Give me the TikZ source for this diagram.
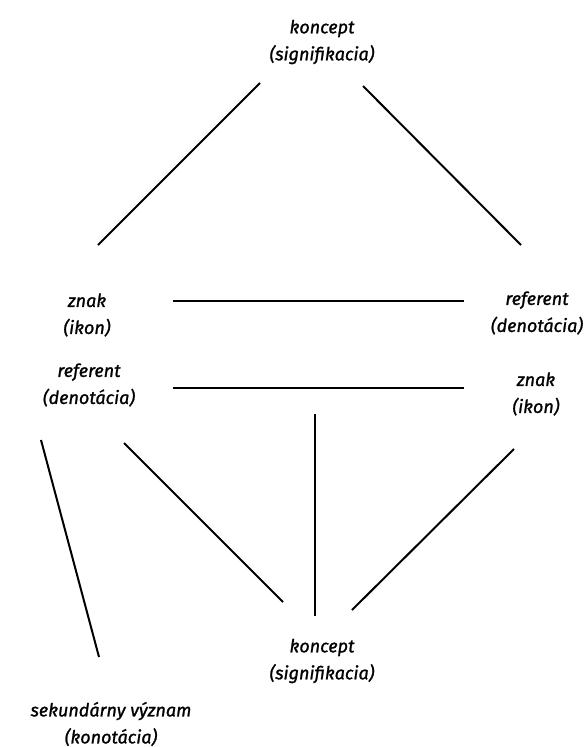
\documentclass[tikz,border=0pt]{standalone}
\usepackage{fontspec}
\setmainfont{Fira Sans}
\newfontfamily\labelfont{Fira Sans}[FakeBold=1.2]
\begin{document}
\begin{tikzpicture}[x=1pt,y=-1pt,
  lbl/.style={align=center,font=\labelfont\fontsize{18}{27}\selectfont\itshape,inner sep=0pt},
  link/.style={line width=2pt,line cap=butt}]
\useasboundingbox (0,0) rectangle (585,747);
% labels
\node[lbl] (k1) at (322,42) {koncept\\(signifikacia)};
\node[lbl] (z1) at (87,315) {znak\\(ikon)};
\node[lbl] (r1) at (537,313) {referent\\(denotácia)};
\node[lbl] (r2) at (89,385) {referent\\(denotácia)};
\node[lbl] (z2) at (536,394) {znak\\(ikon)};
\node[lbl] (k2) at (322,661) {koncept\\(signifikacia)};
\node[lbl] (s) at (111,724) {sekundárny význam\\(konotácia)};
% free ends of the connectors
\coordinate (a1) at (260,83);  \coordinate (a2) at (98,245);
\coordinate (b1) at (363,86);  \coordinate (b2) at (521,245);
\coordinate (c1) at (173,301); \coordinate (c2) at (464,301);
\coordinate (d1) at (173,388); \coordinate (d2) at (464,388);
\coordinate (e1) at (41,440);  \coordinate (e2) at (99,657);
\coordinate (f1) at (124,443); \coordinate (f2) at (283,602);
\coordinate (g1) at (315,414); \coordinate (g2) at (315,616);
\coordinate (h1) at (514,449); \coordinate (h2) at (352,610);
\draw[link] (a1) -- (a2);
\draw[link] (b1) -- (b2);
\draw[link] (c1) -- (c2);
\draw[link] (d1) -- (d2);
\draw[link] (e1) -- (e2);
\draw[link] (f1) -- (f2);
\draw[link] (g1) -- (g2);
\draw[link] (h1) -- (h2);
\end{tikzpicture}
\end{document}
